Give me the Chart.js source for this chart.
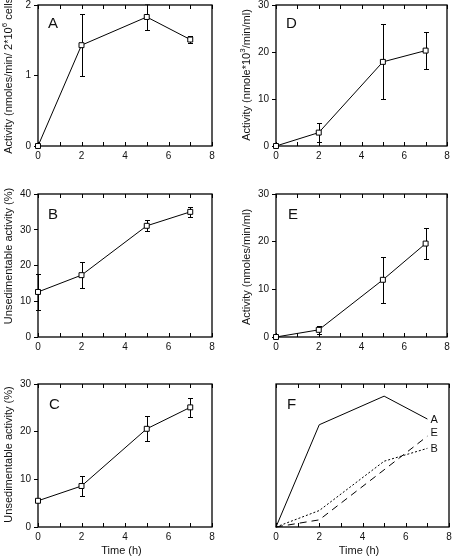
<!DOCTYPE html>
<html>
<head>
<meta charset="utf-8">
<script src="https://cdn.jsdelivr.net/npm/chart.js@4.4.1/dist/chart.umd.min.js"></script>
<style>
  body { margin: 0; background: #fff; width: 452px; height: 557px; position: relative; overflow: hidden; }
  canvas { position: absolute; }
</style>
</head>
<body>
<canvas id="cA" width="226" height="180" style="left:0;top:0"></canvas>
<canvas id="cD" width="226" height="180" style="left:226px;top:0"></canvas>
<canvas id="cB" width="226" height="190" style="left:0;top:180px"></canvas>
<canvas id="cE" width="226" height="190" style="left:226px;top:180px"></canvas>
<canvas id="cC" width="226" height="187" style="left:0;top:370px"></canvas>
<canvas id="cF" width="226" height="187" style="left:226px;top:370px"></canvas>
<script>
// datos
const times = [0, 2, 5, 7];

const actA = [0, 1.43, 1.83, 1.51];
const errA = [0, 0.44, 0.19, 0.05];

const unsedB = [12.6, 17.3, 31.1, 35.0];
const errB = [5.0, 3.7, 1.5, 1.5];

const unsedC = [5.5, 8.6, 20.6, 25.1];
const errC = [0, 2.1, 2.6, 2.0];

const actD = [0, 2.85, 17.9, 20.3];
const errD = [0, 2.0, 8.0, 4.0];

const actE = [0, 1.5, 12.0, 19.6];
const errE = [0, 0.8, 4.8, 3.2];

// panel F: curvas comparadas (unidades arbitrarias)
const compA = [0, 1.43, 1.83, 1.51];
const compE = [0, 0.10, 0.80, 1.27];
const compB = [0, 0.23, 0.92, 1.10];

const xTickLabels = [0, 2, 4, 6, 8];

const FONT = '"Liberation Sans", Arial, Helvetica, sans-serif';
Chart.defaults.font.family = FONT;
Chart.defaults.color = '#111';

const pts = vals => times.map((t, i) => ({ x: t, y: vals[i] }));

const decor = {
  id: 'decor',
  beforeDatasetsDraw(chart, args, o) {
    const { ctx, chartArea: a } = chart;
    const x = chart.scales.x, y = chart.scales.y;
    // barras de error
    ctx.save();
    ctx.beginPath();
    ctx.rect(0, a.top - 0.5, chart.width, a.bottom - a.top + 1);
    ctx.clip();
    ctx.strokeStyle = '#000';
    ctx.lineWidth = 1;
    chart.data.datasets.forEach(ds => {
      if (!ds.errors) return;
      ds.data.forEach((p, i) => {
        const e = ds.errors[i];
        if (!e) return;
        const px = Math.round(x.getPixelForValue(p.x)) + 0.5;
        const yt = Math.round(y.getPixelForValue(p.y + e)) + 0.5;
        const yb = Math.round(y.getPixelForValue(p.y - e)) + 0.5;
        ctx.beginPath();
        ctx.moveTo(px, yt); ctx.lineTo(px, yb);
        ctx.moveTo(px - 2.5, yt); ctx.lineTo(px + 2.5, yt);
        ctx.moveTo(px - 2.5, yb); ctx.lineTo(px + 2.5, yb);
        ctx.stroke();
      });
    });
    ctx.restore();

    // marco y marcas del eje x hacia dentro
    ctx.save();
    ctx.strokeStyle = '#000';
    ctx.lineWidth = 1.3;
    ctx.strokeRect(a.left, a.top, a.right - a.left, a.bottom - a.top);
    ctx.lineWidth = 1;
    x.ticks.forEach(t => {
      const px = Math.round(x.getPixelForValue(t.value)) + 0.5;
      ctx.beginPath();
      ctx.moveTo(px, a.bottom); ctx.lineTo(px, a.bottom - 4);
      ctx.moveTo(px, a.top); ctx.lineTo(px, a.top + 4);
      ctx.stroke();
    });
    ctx.restore();
  },
  afterDraw(chart, args, o) {
    const { ctx, chartArea: a } = chart;
    ctx.save();
    ctx.fillStyle = '#111';
    // letra del panel
    ctx.font = '15px ' + FONT;
    ctx.textAlign = 'left';
    ctx.textBaseline = 'middle';
    ctx.fillText(o.letter, o.letterX, o.letterY);

    // titulo del eje y (con superindice)
    if (o.title) {
      const big = '11px ' + FONT, small = '8px ' + FONT;
      let total = 0;
      o.title.forEach(s => { ctx.font = s[1] ? small : big; total += ctx.measureText(s[0]).width; });
      ctx.translate(o.titleX, o.titleY);
      ctx.rotate(-Math.PI / 2);
      let cx = -total / 2;
      o.title.forEach(s => {
        ctx.font = s[1] ? small : big;
        ctx.fillText(s[0], cx, s[1] ? -4 : 0);
        cx += ctx.measureText(s[0]).width;
      });
      ctx.setTransform(1, 0, 0, 1, 0, 0);
    }

    // titulo del eje x
    if (o.xTitle) {
      ctx.font = '11px ' + FONT;
      ctx.textAlign = 'center';
      ctx.fillText(o.xTitle, (a.left + a.right) / 2 - 3.5, o.xTitleY);
    }

    // etiquetas al final de las curvas
    if (o.endLabels) {
      ctx.font = '11px ' + FONT;
      ctx.textAlign = 'left';
      chart.data.datasets.forEach((ds, i) => {
        const meta = chart.getDatasetMeta(i);
        const last = meta.data[meta.data.length - 1];
        ctx.fillText(ds.label, last.x + 3, last.y + o.endLabels[i]);
      });
    }
    ctx.restore();
  }
};

function makePanel(id, datasets, lay, yOpts, deco) {
  return new Chart(document.getElementById(id), {
    type: 'line',
    data: { datasets: datasets },
    options: {
      responsive: false,
      animation: false,
      layout: { padding: { left: 0, top: lay.top, right: lay.right, bottom: 0 } },
      plugins: { legend: { display: false }, tooltip: { enabled: false }, decor: deco },
      scales: {
        x: {
          type: 'linear', min: 0, max: 8,
          grid: { display: false, drawTicks: false },
          border: { display: false },
          ticks: {
            stepSize: 1, autoSkip: false, maxRotation: 0, padding: 4,
            font: { size: 10 }, color: '#111',
            callback: v => xTickLabels.includes(v) ? String(v) : ''
          },
          afterFit: s => { s.height = lay.xH; s.paddingLeft = 0; s.paddingRight = 0; }
        },
        y: {
          type: 'linear', min: 0, max: yOpts.max,
          grid: { display: yOpts.labels, drawOnChartArea: false, drawTicks: true, tickLength: 4, color: '#000' },
          border: { display: false },
          ticks: {
            display: yOpts.labels, stepSize: yOpts.step, padding: 3,
            font: { size: 10 }, color: '#111'
          },
          afterFit: s => { s.width = lay.yW; s.paddingTop = 0; s.paddingBottom = 0; }
        }
      }
    },
    plugins: [decor]
  });
}

function seriePuntos(vals, errs) {
  return {
    data: pts(vals), errors: errs,
    borderColor: '#000', borderWidth: 1, tension: 0, clip: false,
    pointStyle: 'rect', pointRadius: 3.5, pointBorderWidth: 1,
    pointBackgroundColor: '#fff', pointBorderColor: '#000'
  };
}

makePanel('cA', [seriePuntos(actA, errA)],
  { top: 2, right: 14, yW: 38, xH: 34 }, { max: 2, step: 1, labels: true },
  { letter: 'A', letterX: 48, letterY: 24,
    title: [['Activity (nmoles/min/ 2*10'], ['6', true], [' cells)']], titleX: 9, titleY: 74 });

makePanel('cD', [seriePuntos(actD, errD)],
  { top: 2, right: 2, yW: 50, xH: 34 }, { max: 30, step: 10, labels: true },
  { letter: 'D', letterX: 60, letterY: 24,
    title: [['Activity (nmole*10'], ['3', true], ['/min/ml)']], titleX: 21, titleY: 75 });

makePanel('cB', [seriePuntos(unsedB, errB)],
  { top: 14, right: 14, yW: 38, xH: 33 }, { max: 40, step: 10, labels: true },
  { letter: 'B', letterX: 48, letterY: 35,
    title: [['Unsedimentable activity (%)']], titleX: 9, titleY: 76 });

makePanel('cE', [seriePuntos(actE, errE)],
  { top: 14, right: 3, yW: 50, xH: 33 }, { max: 30, step: 10, labels: true },
  { letter: 'E', letterX: 62, letterY: 35,
    title: [['Activity (nmoles/min/ml)']], titleX: 21, titleY: 87 });

makePanel('cC', [seriePuntos(unsedC, errC)],
  { top: 14, right: 14, yW: 38, xH: 30 }, { max: 30, step: 10, labels: true },
  { letter: 'C', letterX: 49, letterY: 35,
    title: [['Unsedimentable activity (%)']], titleX: 9, titleY: 84.5,
    xTitle: 'Time (h)', xTitleY: 181 });

const linea = (label, vals, dash) => ({
  label: label, data: pts(vals),
  borderColor: '#000', borderWidth: 1, borderDash: dash, tension: 0, clip: false,
  pointRadius: 0
});

makePanel('cF', [linea('A', compA, []), linea('E', compE, [7, 5]), linea('B', compB, [2, 2])],
  { top: 14, right: 3, yW: 50, xH: 30 }, { max: 2, step: 1, labels: false },
  { letter: 'F', letterX: 61, letterY: 35,
    xTitle: 'Time (h)', xTitleY: 181, endLabels: [1, -3, 1] });
</script>
</body>
</html>
